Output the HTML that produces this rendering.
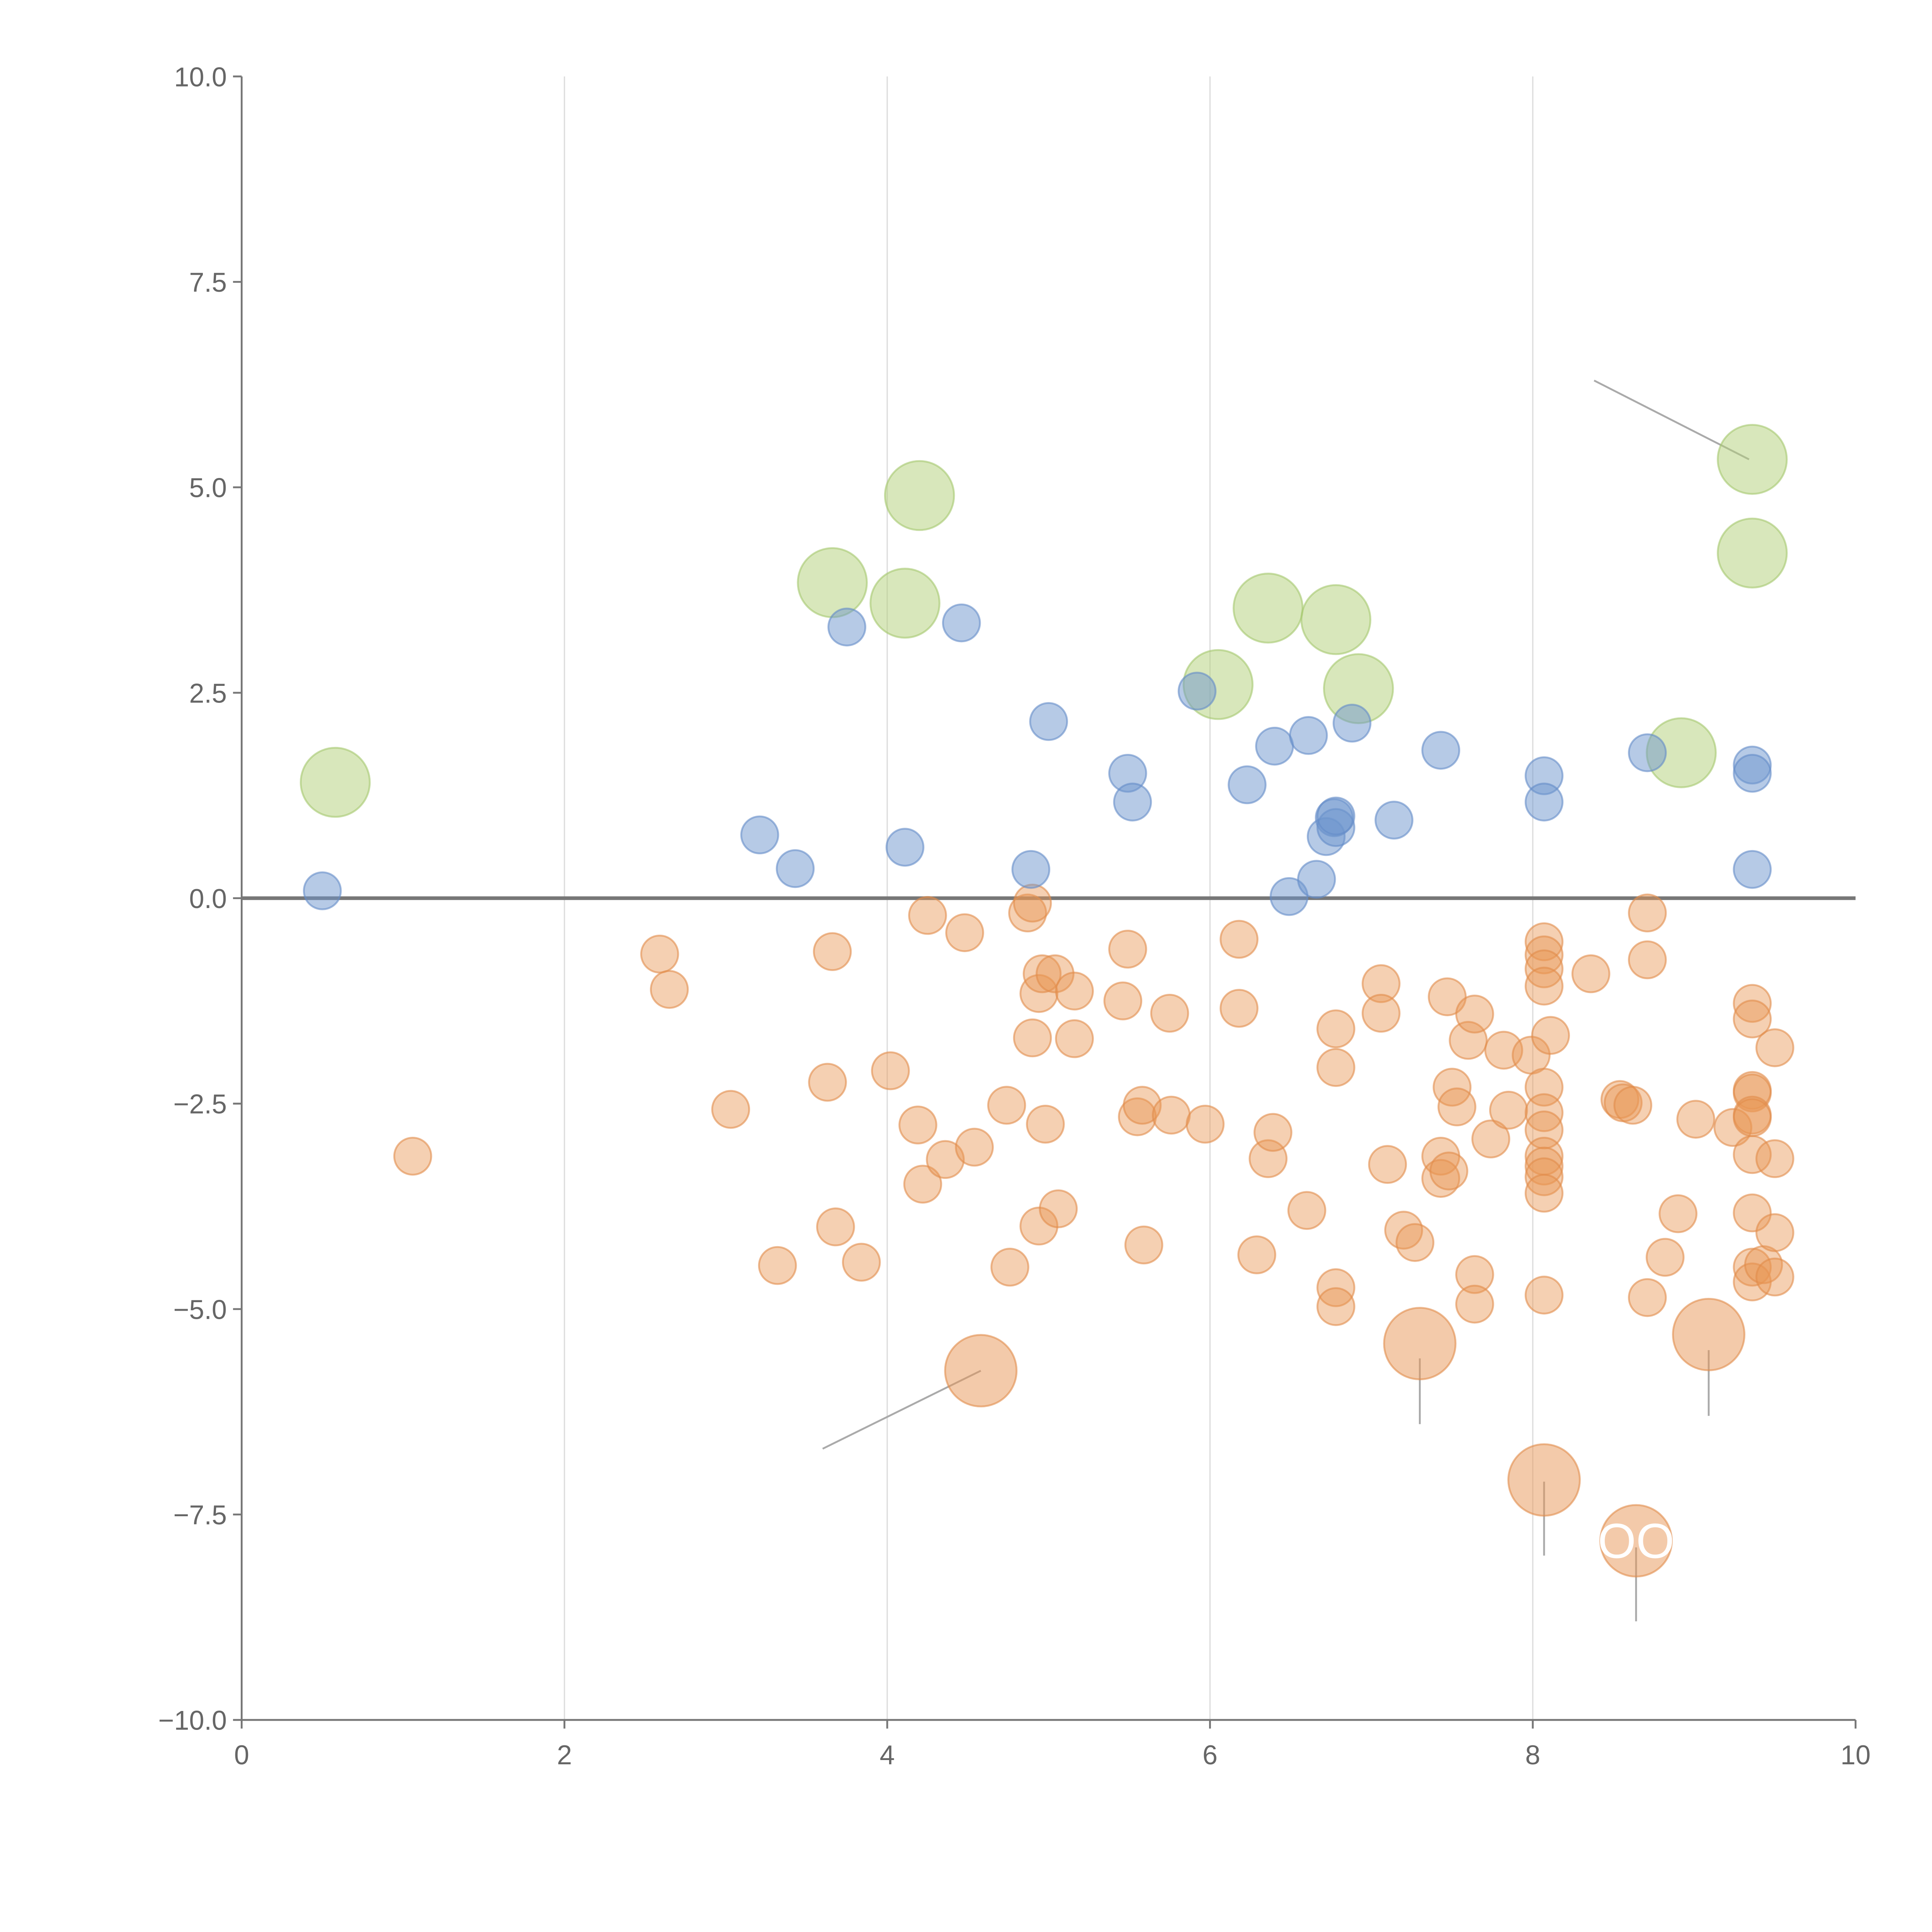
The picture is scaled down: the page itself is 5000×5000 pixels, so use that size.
<!DOCTYPE html>
<html><head><meta charset="utf-8">
<style>
html,body{margin:0;padding:0;background:#fff;}
svg{display:block;font-family:"Liberation Sans",Arial,sans-serif;}
</style></head>
<body>
<svg id="chart" width="5000" height="5000" viewBox="0 0 1567 1567" xmlns="http://www.w3.org/2000/svg"></svg>
<script>
const xTicks=[0,2,4,6,8,10];
const yTicks=[10,7.5,5,2.5,0,-2.5,-5,-7.5,-10];
const yTickLabels=["10.0","7.5","5.0","2.5","0.0","\u22122.5","\u22125.0","\u22127.5","\u221210.0"];
const blueX=[0.5,3.21,3.43,3.75,4.11,4.46,4.89,5.0,5.49,5.52,5.92,6.23,6.4,6.49,6.61,6.66,6.72,6.77,6.78,6.78,6.88,7.14,7.43,8.07,8.07,8.71,9.36,9.36,9.36];
const blueY=[0.09,0.77,0.36,3.3,0.62,3.35,0.35,2.15,1.52,1.17,2.52,1.38,1.85,0.02,1.98,0.23,0.75,0.98,0.86,1.0,2.13,0.95,1.8,1.49,1.17,1.77,1.62,1.52,0.35];
const greenX=[0.58,3.66,4.2,4.11,6.05,6.36,6.78,6.92,8.92,9.36,9.36];
const greenY=[1.41,3.84,4.9,3.59,2.6,3.53,3.39,2.55,1.77,5.34,4.2];
const orangeX=[1.06,2.59,2.65,3.03,3.32,3.63,3.66,3.68,3.84,4.02,4.19,4.22,4.25,4.36,4.48,4.54,4.74,4.76,4.87,4.9,4.9,4.94,4.94,4.96,4.98,5.04,5.06,5.16,5.16,5.46,5.49,5.55,5.58,5.59,5.75,5.76,5.97,6.18,6.18,6.29,6.36,6.39,6.6,6.78,6.78,6.78,6.78,7.06,7.06,7.1,7.2,7.27,7.43,7.43,7.48,7.47,7.5,7.53,7.6,7.64,7.64,7.64,7.74,7.82,7.85,7.99,8.07,8.07,8.07,8.07,8.07,8.07,8.07,8.07,8.07,8.07,8.07,8.07,8.11,8.36,8.54,8.56,8.62,8.71,8.71,8.71,8.82,8.9,9.01,9.24,9.36,9.36,9.36,9.36,9.36,9.36,9.36,9.36,9.36,9.36,9.43,9.5,9.5,9.5,9.5];
const orangeY=[-3.14,-0.68,-1.11,-2.57,-4.47,-2.24,-0.65,-4.0,-4.43,-2.1,-2.76,-3.48,-0.21,-3.18,-0.42,-3.03,-2.52,-4.49,-0.18,-0.06,-1.7,-3.99,-1.16,-0.92,-2.75,-0.92,-3.78,-1.13,-1.71,-1.25,-0.62,-2.66,-2.52,-4.22,-1.4,-2.64,-2.75,-0.5,-1.34,-4.34,-3.17,-2.85,-3.8,-1.59,-2.06,-4.74,-4.97,-1.04,-1.4,-3.24,-4.04,-4.19,-3.14,-3.41,-3.32,-1.2,-2.3,-2.54,-1.73,-1.41,-4.58,-4.94,-2.93,-1.85,-2.58,-1.91,-0.53,-0.69,-0.86,-1.07,-2.3,-2.61,-2.82,-3.14,-3.26,-3.39,-3.59,-4.83,-1.67,-0.92,-2.45,-2.49,-2.52,-0.18,-0.75,-4.86,-4.37,-3.84,-2.69,-2.79,-1.28,-1.47,-2.34,-2.37,-2.64,-2.67,-3.12,-3.83,-4.49,-4.67,-4.46,-1.82,-3.17,-4.07,-4.61];
const bigX=[4.58,7.3,9.09,8.07,8.64];
const bigY=[-5.75,-5.42,-5.31,-7.08,-7.82];

const NS="http://www.w3.org/2000/svg";
const svg=document.getElementById('chart');
const X0=196,X1=1505,YT=62,YB=1395;
const sx=v=>X0+(v-0)/10*(X1-X0);
const sy=v=>YB-(v+10)/20*(YB-YT);
function mk(tag,attrs,parent){const e=document.createElementNS(NS,tag);for(const k in attrs)e.setAttribute(k,attrs[k]);(parent||svg).appendChild(e);return e;}

xTicks.forEach(t=>{if(t>0&&t<10){const g=mk('line',{x1:sx(t),x2:sx(t),y1:YT,y2:YB,stroke:'#dcdcdc','stroke-width':1});

}});
const ya=mk('line',{x1:X0,x2:X0,y1:YT,y2:YB,stroke:'#777','stroke-width':1.5});


const xa=mk('line',{x1:X0,x2:X1,y1:YB,y2:YB,stroke:'#777','stroke-width':1.5});


xTicks.forEach(t=>{mk('line',{x1:sx(t),x2:sx(t),y1:YB,y2:YB+7,stroke:'#777','stroke-width':1.5});
const tx=mk('text',{x:sx(t),y:YB+36,'text-anchor':'middle','font-size':22,fill:'#666'});tx.textContent=t;

});
yTicks.forEach((t,i)=>{mk('line',{x1:X0-7,x2:X0,y1:sy(t),y2:sy(t),stroke:'#777','stroke-width':1.5});
const tx=mk('text',{x:X0-12,y:sy(t)+8,'text-anchor':'end','font-size':22,fill:'#666'});tx.textContent=yTickLabels[i];

});
const zl=mk('line',{x1:X0,x2:X1,y1:sy(0),y2:sy(0),stroke:'#777','stroke-width':3});



const annLines=[[4.58,-5.75,3.6,-6.7],[7.3,-5.6,7.3,-6.4],[9.09,-5.5,9.09,-6.3],[8.07,-7.1,8.07,-8.0],[8.64,-7.9,8.64,-8.8],[9.34,5.34,8.38,6.3]];
annLines.forEach(a=>{const l=mk('line',{x1:sx(a[0]),y1:sy(a[1]),x2:sx(a[2]),y2:sy(a[3]),stroke:'#aaa','stroke-width':1.5});

});

function dots(xs,ys,r,fill,stroke,name){xs.forEach((x,i)=>{const c=mk('circle',{cx:sx(x),cy:sy(ys[i]),r:r,fill:fill,stroke:stroke,'stroke-width':1.5});

});}
dots(orangeX,orangeY,15,'rgba(232,150,85,0.45)','rgba(225,140,75,0.6)','orange-point');
dots(bigX,bigY,29,'rgba(232,150,85,0.5)','rgba(225,140,75,0.6)','orange-large-point');
dots(greenX,greenY,28,'rgba(178,208,120,0.5)','rgba(165,200,110,0.6)','green-point');
dots(blueX,blueY,15,'rgba(110,150,205,0.5)','rgba(100,140,200,0.6)','blue-point');

const lab=mk('text',{x:sx(8.64),y:sy(-7.82)+14,'text-anchor':'middle','font-size':40,fill:'#fff'});lab.textContent='OO';


</script>
</body></html>
